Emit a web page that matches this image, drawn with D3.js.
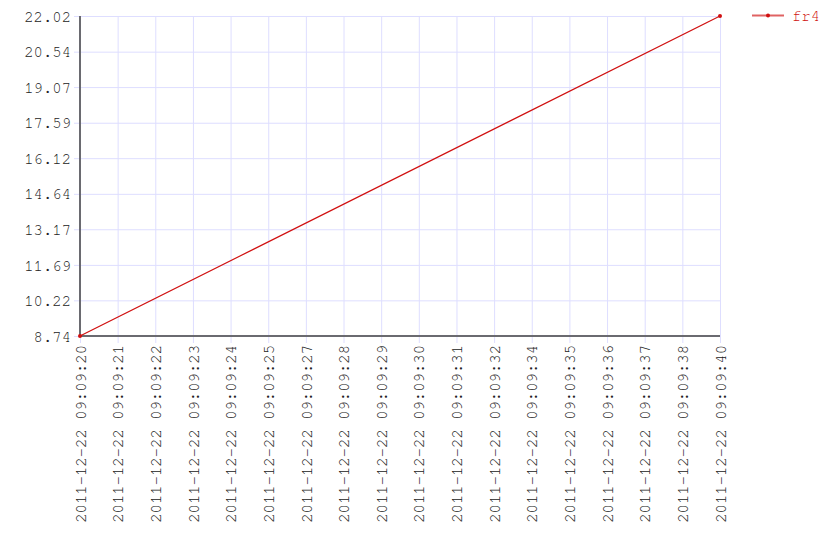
<!DOCTYPE html>
<html><head><meta charset="utf-8">
<script src="https://cdn.jsdelivr.net/npm/d3@7"></script>
<style>body{margin:0;background:#fff}svg{display:block}</style>
</head><body>
<script>
const categories = ["2011-12-22 09:09:20","2011-12-22 09:09:21","2011-12-22 09:09:22","2011-12-22 09:09:23","2011-12-22 09:09:24","2011-12-22 09:09:25","2011-12-22 09:09:27","2011-12-22 09:09:28","2011-12-22 09:09:29","2011-12-22 09:09:30","2011-12-22 09:09:31","2011-12-22 09:09:32","2011-12-22 09:09:34","2011-12-22 09:09:35","2011-12-22 09:09:36","2011-12-22 09:09:37","2011-12-22 09:09:38","2011-12-22 09:09:40"];
const seriesName = "fr4";
const fr4Values = [8.74,null,null,null,null,null,null,null,null,null,null,null,null,null,null,null,null,22.02];
const yTickLabels = ["8.74","10.22","11.69","13.17","14.64","16.12","17.59","19.07","20.54","22.02"];

const W=840,H=560, L=80, R=720, T=16, B=336;
const font = "'Nimbus Mono PS', 'Nimbus Mono L', FreeMono, Courier, 'Liberation Mono', monospace";
const fs = 15.6;
const gridColor = "#dedeff", axisColor = "#6a6a70", textColor = "#222", red = "#d01010";

const svg = d3.select("body").append("svg").attr("width",W).attr("height",H);
const x = d3.scalePoint().domain(categories).range([L,R]);
const yVals = yTickLabels.map(Number);
const y = d3.scaleLinear().domain([yVals[0], yVals[yVals.length-1]]).range([B,T]);

// vertical grid
const xa = svg.append("g").attr("transform",`translate(0,${B})`)
  .call(d3.axisBottom(x).tickSize(-(B-T)).tickSizeOuter(0));
xa.select(".domain").remove();
xa.selectAll("line").attr("stroke",gridColor).attr("y1",7);
xa.selectAll("text").attr("fill",textColor).attr("font-family",font).attr("font-size",fs)
  .attr("transform","rotate(-90)").attr("text-anchor","end").attr("x",-9).attr("y",0).attr("dy","0.33em");

// horizontal grid
const ya = svg.append("g").attr("transform",`translate(${L},0)`)
  .call(d3.axisLeft(y).tickValues(yVals).tickFormat((d,i)=>yTickLabels[i]).tickSize(-(R-L)).tickSizeOuter(0));
ya.select(".domain").remove();
ya.selectAll("line").attr("stroke",gridColor).attr("x1",-6);
ya.selectAll("text").attr("fill",textColor).attr("font-family",font).attr("font-size",fs).attr("x",-9).attr("dy","0.33em");

// axes lines
svg.append("line").attr("x1",L).attr("x2",L).attr("y1",T).attr("y2",B+1).attr("stroke",axisColor).attr("stroke-width",2);
svg.append("line").attr("x1",L).attr("x2",R).attr("y1",B).attr("y2",B).attr("stroke",axisColor).attr("stroke-width",2);

// series
const pts = categories.map((c,i)=>({c, v:fr4Values[i]})).filter(d=>d.v!=null);
svg.append("path").datum(pts).attr("fill","none").attr("stroke",red).attr("stroke-width",1.2)
  .attr("d", d3.line().x(d=>x(d.c)).y(d=>y(d.v)));
svg.selectAll("circle.pt").data(pts).join("circle").attr("class","pt")
  .attr("cx",d=>x(d.c)).attr("cy",d=>y(d.v)).attr("r",2).attr("fill",red);

// legend
const lg = svg.append("g");
lg.append("line").attr("x1",752).attr("x2",784).attr("y1",15.5).attr("y2",15.5).attr("stroke",red).attr("stroke-opacity",0.65).attr("stroke-width",2);
lg.append("circle").attr("cx",768).attr("cy",15.5).attr("r",2).attr("fill",red);
lg.append("text").attr("x",792).attr("y",15.5).attr("dy","0.33em").attr("fill",red).attr("font-family",font).attr("font-size",fs).text(seriesName);
</script>
</body></html>
